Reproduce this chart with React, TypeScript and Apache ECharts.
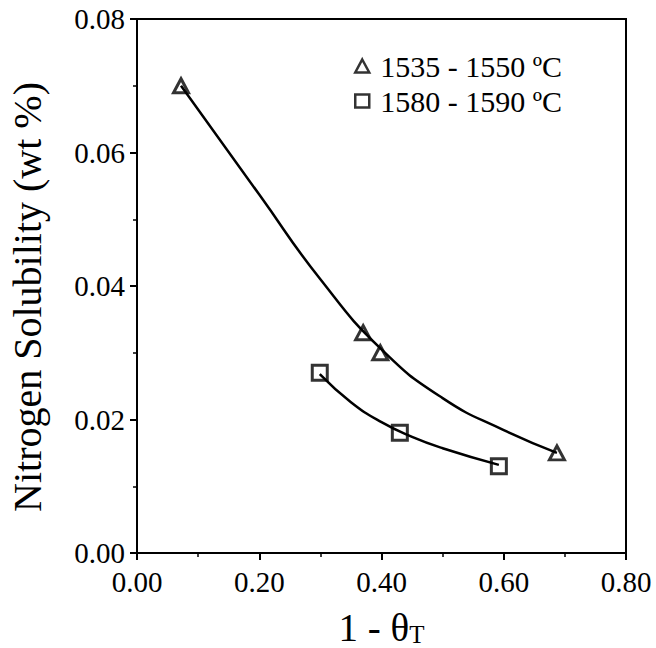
import React, { useEffect, useRef } from "react";
import * as echarts from "echarts";

// Measured points
const triX = [0.072, 0.370, 0.398, 0.687];
const triY = [0.070, 0.033, 0.030, 0.015];
const sqX = [0.299, 0.430, 0.592];
const sqY = [0.027, 0.018, 0.013];

// Fitted curves
const triFitX = [0.072, 0.20, 0.30, 0.40, 0.50, 0.60, 0.687];
const triFitY = [0.0700, 0.0537, 0.0410, 0.0305, 0.0232, 0.0184, 0.0150];
const sqFitX = [0.299, 0.35, 0.40, 0.45, 0.50, 0.592];
const sqFitY = [0.0268, 0.0226, 0.0196, 0.0174, 0.0157, 0.0132];

const seriesNames = ["1535 - 1550 ºC", "1580 - 1590 ºC"];
const xTitle = "1 - θ";
const xTitleSub = "T";
const yTitle = "Nitrogen Solubility (wt %)";

const FONT = "'Liberation Serif', 'Times New Roman', serif";

const zip = (xs: number[], ys: number[]) => xs.map((x, i) => [x, ys[i]]);

export default function App() {
  const ref = useRef<HTMLDivElement>(null);
  useEffect(() => {
    if (!ref.current) return;
    const chart = echarts.init(ref.current, null, { renderer: "svg" });
    const axisCommon = {
      axisLine: { show: true, lineStyle: { color: "#000", width: 2 } },
      axisTick: { show: true, inside: false, length: 7, lineStyle: { color: "#000", width: 2 } },
      minorTick: { show: true, splitNumber: 2, length: 4, lineStyle: { color: "#000", width: 1.5 } },
      splitLine: { show: false },
      minorSplitLine: { show: false },
    };
    const labelCommon = {
      color: "#000",
      fontFamily: FONT,
      fontSize: 29,
      formatter: (v: number) => v.toFixed(2),
    };
    chart.setOption({
      animation: false,
      backgroundColor: "#fff",
      grid: {
        left: 137,
        right: 30,
        top: 19,
        bottom: 95,
        containLabel: false,
        outerBoundsMode: "none",
        show: true,
        borderColor: "#000",
        borderWidth: 2,
        backgroundColor: "transparent",
      },
      legend: {
        show: true,
        orient: "vertical",
        left: 349,
        top: 46,
        itemWidth: 14,
        itemHeight: 13,
        itemGap: 5,
        textStyle: {
          color: "#000",
          fontFamily: FONT,
          fontSize: 30,
          lineHeight: 29,
          padding: [0, 0, 0, 6],
        },
        data: [
          {
            name: seriesNames[0],
            icon: "triangle",
            itemStyle: { color: "#fff", borderColor: "#000", borderWidth: 2.5 },
          },
          {
            name: seriesNames[1],
            icon: "rect",
            itemStyle: { color: "#fff", borderColor: "#000", borderWidth: 2.5 },
          },
        ],
      },
      xAxis: {
        type: "value",
        min: 0,
        max: 0.8,
        interval: 0.2,
        ...axisCommon,
        axisLabel: { ...labelCommon, margin: 14 },
        name: `{a|${xTitle}}{s|${xTitleSub}}`,
        nameLocation: "middle",
        nameGap: 54,
        nameTextStyle: {
          rich: {
            a: { fontFamily: FONT, fontSize: 39, color: "#000", lineHeight: 40 },
            s: { fontFamily: FONT, fontSize: 25, color: "#000", lineHeight: 12, verticalAlign: "bottom" },
          },
        },
      },
      yAxis: {
        type: "value",
        min: 0,
        max: 0.08,
        interval: 0.02,
        ...axisCommon,
        axisLabel: { ...labelCommon, margin: 12 },
        name: yTitle,
        nameLocation: "middle",
        nameRotate: 90,
        nameGap: 90,
        nameTextStyle: {
          fontFamily: FONT,
          fontSize: 40,
          color: "#000",
          padding: [0, 22, 0, 0],
        },
      },
      series: [
        {
          type: "line",
          name: "fit1",
          data: zip(triFitX, triFitY),
          smooth: 0.5,
          showSymbol: false,
          symbol: "none",
          lineStyle: { color: "#000", width: 2.5 },
          z: 2,
        },
        {
          type: "line",
          name: "fit2",
          data: zip(sqFitX, sqFitY),
          smooth: 0.5,
          showSymbol: false,
          symbol: "none",
          lineStyle: { color: "#000", width: 2.5 },
          z: 2,
        },
        {
          type: "scatter",
          name: seriesNames[0],
          data: zip(triX, triY),
          symbol: "triangle",
          symbolSize: [15, 14],
          itemStyle: { color: "transparent", borderColor: "#000", borderWidth: 3 },
          z: 3,
        },
        {
          type: "scatter",
          name: seriesNames[1],
          data: zip(sqX, sqY),
          symbol: "rect",
          symbolSize: 15,
          itemStyle: { color: "transparent", borderColor: "#000", borderWidth: 3 },
          z: 3,
        },
      ],
    });
    return () => chart.dispose();
  }, []);
  return (
    <div
      ref={ref}
      style={{ position: "fixed", left: 0, top: 0, width: 656, height: 648, background: "#fff" }}
    />
  );
}
